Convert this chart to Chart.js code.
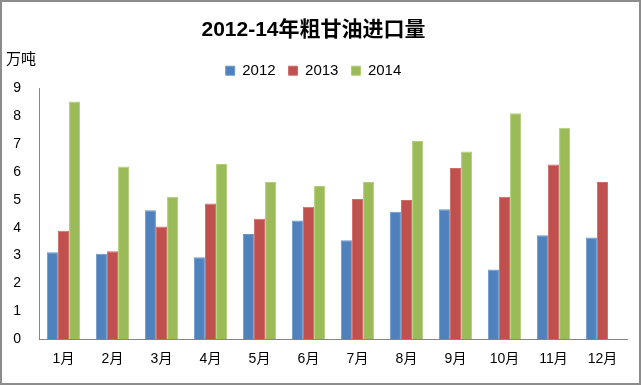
<!DOCTYPE html>
<html>
<head>
<meta charset="utf-8">
<script src="https://cdn.jsdelivr.net/npm/chart.js@4"></script>
<style>
  html, body { margin: 0; padding: 0; background: #fff; }
  #box { width: 641px; height: 385px; box-sizing: border-box; border: 2px solid #8c8c8c; position: relative; }
  canvas { position: absolute; left: -2px; top: -2px; }
</style>
</head>
<body>
<div id="box"><canvas id="myChart" width="641" height="385"></canvas></div>
<script>
const months = ['1月', '2月', '3月', '4月', '5月', '6月', '7月', '8月', '9月', '10月', '11月', '12月'];
const y2012 = [3.12, 3.06, 4.62, 2.94, 3.77, 4.26, 3.55, 4.57, 4.66, 2.50, 3.73, 3.65];
const y2013 = [3.89, 3.15, 4.04, 4.87, 4.32, 4.75, 5.03, 4.99, 6.14, 5.11, 6.26, 5.64];
const y2014 = [8.52, 6.19, 5.11, 6.28, 5.64, 5.49, 5.64, 7.11, 6.73, 8.10, 7.58, null];
const yTicks = [0, 1, 2, 3, 4, 5, 6, 7, 8, 9];

const fontFam = '"Liberation Sans", "Noto Sans CJK SC", sans-serif';

// 纵轴单位写在左上角
const unitLabel = {
    id: 'unitLabel',
    afterDraw(chart) {
        const ctx = chart.ctx;
        ctx.save();
        ctx.font = '15px ' + fontFam;
        ctx.fillStyle = '#000';
        ctx.textBaseline = 'middle';
        ctx.fillText('万吨', 6, 60);
        ctx.restore();
    }
};

const ctx = document.getElementById('myChart').getContext('2d');
const myChart = new Chart(ctx, {
    type: 'bar',
    data: {
        labels: months,
        datasets: [
            { label: '2012', data: y2012, backgroundColor: '#4F81BD', borderColor: '#6a96cc', borderWidth: 1 },
            { label: '2013', data: y2013, backgroundColor: '#C0504D', borderColor: '#cf6c69', borderWidth: 1 },
            { label: '2014', data: y2014, backgroundColor: '#9BBB59', borderColor: '#b0cf75', borderWidth: 1 }
        ]
    },
    options: {
        responsive: false,
        animation: false,
        layout: { padding: { left: 0, right: 14, top: 0, bottom: 5 } },
        datasets: {
            bar: { categoryPercentage: 0.68, barPercentage: 1 }
        },
        plugins: {
            title: {
                display: true,
                text: '2012-14年粗甘油进口量',
                font: { family: fontFam, size: 21, weight: 'bold' },
                color: '#000',
                padding: { top: 18, bottom: 7 }
            },
            legend: {
                position: 'top',
                labels: {
                    font: { family: fontFam, size: 15 },
                    color: '#000',
                    boxWidth: 9,
                    boxHeight: 9,
                    padding: 13
                }
            },
            tooltip: { enabled: false }
        },
        scales: {
            x: {
                grid: { display: false, drawTicks: false },
                border: { color: '#868686', width: 1 },
                ticks: {
                    font: { family: fontFam, size: 14 },
                    color: '#000',
                    padding: 12,
                    maxRotation: 0,
                    autoSkip: false
                }
            },
            y: {
                min: 0,
                max: 9,
                afterBuildTicks(scale) {
                    scale.ticks = yTicks.map(v => ({ value: v }));
                },
                afterFit(scale) {
                    scale.width = 39;
                },
                grid: { display: false, drawTicks: false },
                border: { color: '#868686', width: 1 },
                ticks: {
                    font: { family: fontFam, size: 14 },
                    color: '#000',
                    padding: 18
                }
            }
        }
    },
    plugins: [unitLabel]
});
</script>
</body>
</html>
